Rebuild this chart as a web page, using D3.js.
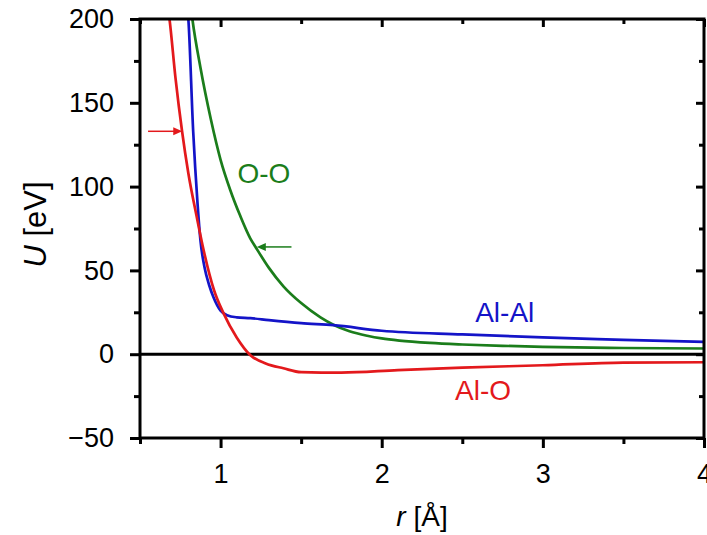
<!DOCTYPE html>
<html>
<head>
<meta charset="utf-8">
<script src="https://cdn.jsdelivr.net/npm/d3@7/dist/d3.min.js"></script>
<style>
  html, body { margin: 0; padding: 0; background: #fff; }
  svg { display: block; }
  text { font-family: "Liberation Sans", Arial, sans-serif; }
</style>
</head>
<body>
<svg id="chart" width="707" height="535"></svg>
<script>
// ---- data ----
const alO_r = [0.66, 0.683, 0.72, 0.761, 0.80, 0.852, 0.895, 0.96, 1.018, 1.1, 1.185, 1.28, 1.39, 1.5, 1.75, 2.1, 2.5, 3.0, 3.5, 4.0];
const alO_U = [215, 200, 165, 133, 108, 82, 62, 38, 24.5, 10, -0.6, -5.5, -8.4, -10.7, -11, -9.5, -8.0, -6.6, -5.0, -4.8];

const alAl_r = [0.78, 0.80, 0.83, 0.857, 0.875, 0.9, 0.93, 0.956, 1.0, 1.04, 1.1, 1.185, 1.3, 1.5, 1.7, 2.0, 2.5, 3.0, 3.5, 4.0];
const alAl_U = [215, 200, 133, 90, 68, 52, 41, 34, 26, 23.3, 22, 21.5, 20.3, 18.5, 17.3, 14, 11.8, 10, 8.6, 7.3];

const oO_r = [0.80, 0.825, 0.875, 0.94, 1.0, 1.06, 1.12, 1.185, 1.217, 1.3, 1.39, 1.5, 1.62, 1.70, 1.8, 1.91, 2.0, 2.11, 2.3, 2.5, 2.75, 3.0, 3.5, 4.0];
const oO_U = [220, 200, 171, 140, 116, 98, 83, 69, 64, 51.5, 40.5, 30.5, 22, 17.6, 13.7, 11, 9.4, 8.1, 6.7, 5.8, 5.0, 4.4, 3.7, 3.4];

const seriesNames = ["Al-O", "Al-Al", "O-O"];
const seriesColors = ["#e3191c", "#1414c8", "#1b7d1b"];

const xMajorTicks = [1, 2, 3, 4];
const xMinorTicks = [0.5, 1.5, 2.5, 3.5];
const yMajorTicks = [-50, 0, 50, 100, 150, 200];
const yMinorTicks = [-25, 25, 75, 125, 175];

// label anchors (data coords)
const labelR = [2.455, 2.58, 1.105];
const labelU = [-27.5, 19, 102];

// arrows: [r_start, r_end, U]
const arrowRed = [0.55, 0.762, 133];
const arrowGreen = [1.44, 1.225, 64];

// ---- layout ----
const svg = d3.select("#chart");
const margin = {left: 140, right: 3, top: 19, bottom: 97};
const W = 707, H = 535;
const x = d3.scaleLinear().domain([0.5, 4]).range([margin.left, W - margin.right]);
const y = d3.scaleLinear().domain([-50, 200]).range([H - margin.bottom, margin.top]);

const fontSize = 27;

svg.append("defs").append("clipPath").attr("id", "clip")
  .append("rect")
  .attr("x", x(0.5)).attr("y", y(200))
  .attr("width", x(4) - x(0.5)).attr("height", y(-50) - y(200));

// zero line
svg.append("line")
  .attr("x1", x(0.5)).attr("x2", x(4))
  .attr("y1", y(0)).attr("y2", y(0))
  .attr("stroke", "#000").attr("stroke-width", 3);

// curves
const series = [
  {r: alO_r, U: alO_U},
  {r: alAl_r, U: alAl_U},
  {r: oO_r, U: oO_U}
];
const line = d3.line().x(d => x(d[0])).y(d => y(d[1])).curve(d3.curveMonotoneX);
const plotG = svg.append("g").attr("clip-path", "url(#clip)");
[2, 1, 0].forEach(i => {
  const s = series[i];
  const pts = s.r.map((rv, k) => [rv, s.U[k]]);
  plotG.append("path")
    .attr("d", line(pts))
    .attr("fill", "none")
    .attr("stroke", seriesColors[i])
    .attr("stroke-width", 2.7)
    .attr("stroke-linejoin", "round");
});

// series labels
seriesNames.forEach((name, i) => {
  svg.append("text")
    .attr("x", x(labelR[i])).attr("y", y(labelU[i]))
    .attr("fill", seriesColors[i])
    .attr("font-size", 28)
    .text(name);
});

// arrows
function arrow(a, color) {
  const x0 = x(a[0]), x1 = x(a[1]), yy = y(a[2]);
  const dir = Math.sign(x1 - x0);
  svg.append("line")
    .attr("x1", x0).attr("x2", x1 - dir * 6)
    .attr("y1", yy).attr("y2", yy)
    .attr("stroke", color).attr("stroke-width", 1.5);
  svg.append("path")
    .attr("d", `M${x1},${yy} L${x1 - dir * 9},${yy - 4} L${x1 - dir * 9},${yy + 4} Z`)
    .attr("fill", color);
}
arrow(arrowRed, seriesColors[0]);
arrow(arrowGreen, seriesColors[2]);

// axes
function styleAxis(g) {
  g.select(".domain").remove();
  g.selectAll(".tick line").attr("stroke", "#000").attr("stroke-width", 3);
  g.selectAll("text").attr("font-size", fontSize).attr("fill", "#000")
    .attr("font-family", '"Liberation Sans", Arial, sans-serif');
}
// bottom
svg.append("g").attr("transform", `translate(0,${y(-50)})`)
  .call(d3.axisBottom(x).tickValues(xMajorTicks).tickFormat(d3.format("d")).tickSize(10).tickPadding(16))
  .call(styleAxis);
svg.append("g").attr("transform", `translate(0,${y(-50)})`)
  .call(d3.axisBottom(x).tickValues(xMinorTicks).tickFormat("").tickSize(6))
  .call(styleAxis);
// left
svg.append("g").attr("transform", `translate(${x(0.5)},0)`)
  .call(d3.axisLeft(y).tickValues(yMajorTicks).tickFormat(d3.format("d")).tickSize(10).tickPadding(16))
  .call(styleAxis);
svg.append("g").attr("transform", `translate(${x(0.5)},0)`)
  .call(d3.axisLeft(y).tickValues(yMinorTicks).tickFormat("").tickSize(6))
  .call(styleAxis);
// top (inward)
svg.append("g").attr("transform", `translate(0,${y(200)})`)
  .call(d3.axisBottom(x).tickValues(xMajorTicks).tickFormat("").tickSize(8))
  .call(styleAxis);
svg.append("g").attr("transform", `translate(0,${y(200)})`)
  .call(d3.axisBottom(x).tickValues(xMinorTicks).tickFormat("").tickSize(5))
  .call(styleAxis);
// right (inward)
svg.append("g").attr("transform", `translate(${x(4)},0)`)
  .call(d3.axisLeft(y).tickValues(yMajorTicks).tickFormat("").tickSize(8))
  .call(styleAxis);
svg.append("g").attr("transform", `translate(${x(4)},0)`)
  .call(d3.axisLeft(y).tickValues(yMinorTicks).tickFormat("").tickSize(5))
  .call(styleAxis);

// frame
svg.append("rect")
  .attr("x", x(0.5)).attr("y", y(200))
  .attr("width", x(4) - x(0.5)).attr("height", y(-50) - y(200))
  .attr("fill", "none").attr("stroke", "#000").attr("stroke-width", 3);

// axis titles
const xt = svg.append("text")
  .attr("x", (x(0.5) + x(4)) / 2).attr("y", 526)
  .attr("text-anchor", "middle").attr("font-size", 28);
xt.append("tspan").attr("font-style", "italic").text("r");
xt.append("tspan").text(" [Å]");

const yt = svg.append("text")
  .attr("transform", `translate(46,${(y(200) + y(-50)) / 2 - 4}) rotate(-90)`)
  .attr("text-anchor", "middle").attr("font-size", 31);
yt.append("tspan").attr("font-style", "italic").text("U");
yt.append("tspan").text(" [eV]");
</script>
</body>
</html>
